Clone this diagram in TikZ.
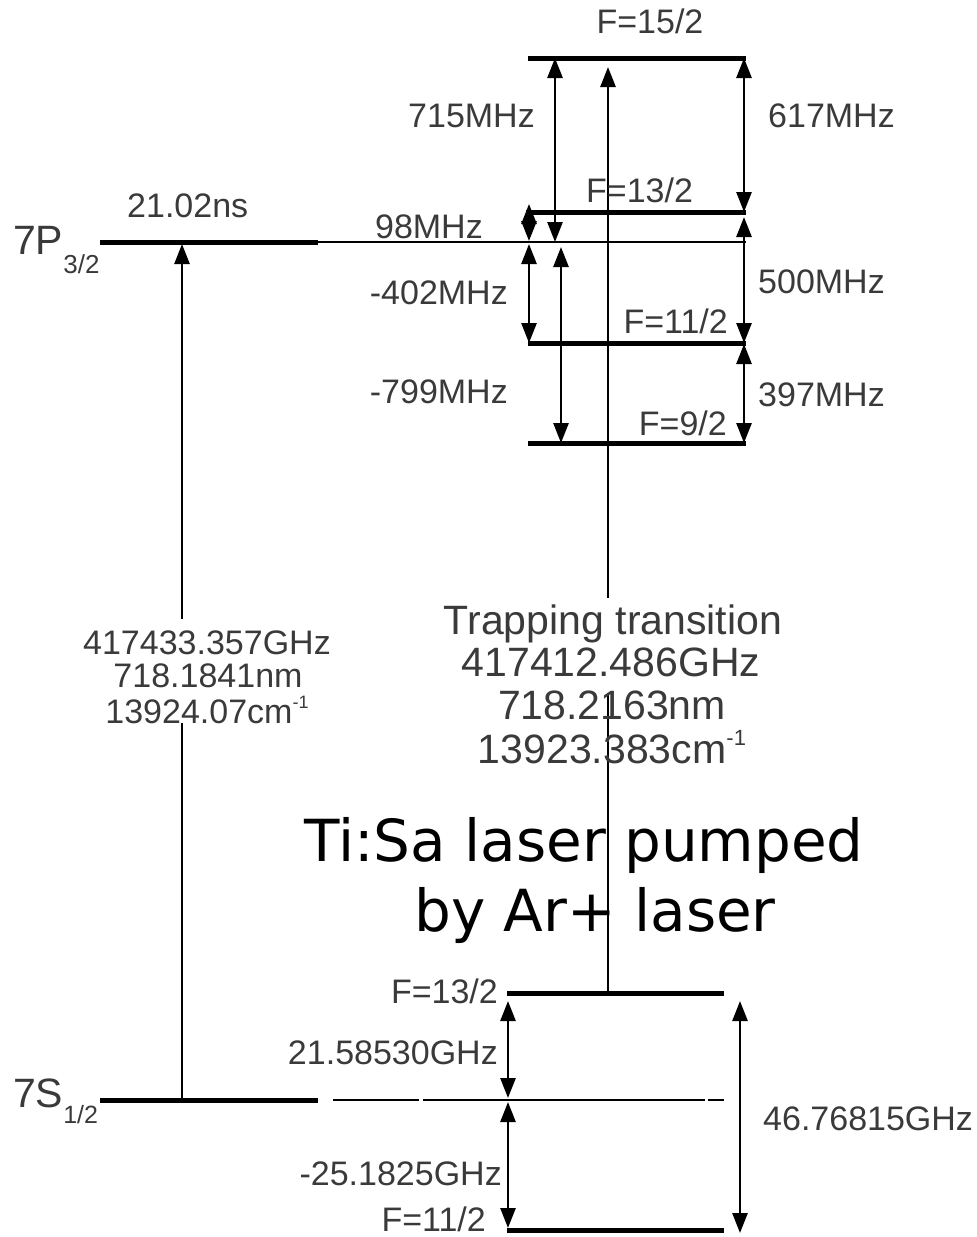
\documentclass[tikz,border=0pt]{standalone}
\usepackage{fontspec}
\setmainfont{Liberation Sans}
\newfontfamily\djv{DejaVu Sans}
\usetikzlibrary{arrows.meta}
\definecolor{lab}{RGB}{58,58,58}
\newcommand{\supm}[1]{\raisebox{0.42em}{\fontsize{18}{18}\selectfont #1}}
\begin{document}
\begin{tikzpicture}[x=1pt,y=-1pt,
  >={Triangle[length=20pt,width=15pt]},
  level/.style={line width=5pt},
  refline/.style={line width=2pt},
  dbl/.style={line width=2.7pt,<->},
  uparr/.style={line width=2.7pt,->},
  lbl/.style={text=lab,inner sep=0pt,font=\fontsize{34}{36}\selectfont},
  tlbl/.style={text=lab,inner ysep=0pt,inner xsep=2pt,font=\fontsize{41}{43}\selectfont},
  big/.style={inner sep=0pt,font=\djv\fontsize{58}{68}\selectfont},
]
\useasboundingbox (0,0) rectangle (977,1237);

% ---------- coordinates of levels ----------
\coordinate (p7a) at (100,242);  \coordinate (p7b) at (318,242);
\coordinate (refb) at (746,242);
\coordinate (u15a) at (528,58);  \coordinate (u15b) at (746,58);
\coordinate (u13a) at (526,212); \coordinate (u13b) at (746,212);
\coordinate (u11a) at (528,343); \coordinate (u11b) at (746,343);
\coordinate (u9a) at (528,443);  \coordinate (u9b) at (746,443);
\coordinate (s7a) at (100,1100); \coordinate (s7b) at (318,1100);
\coordinate (d1a) at (333,1100); \coordinate (d1b) at (419,1100);
\coordinate (d2a) at (423,1100); \coordinate (d2b) at (705,1100);
\coordinate (d3a) at (708,1100); \coordinate (d3b) at (724,1100);
\coordinate (l13a) at (507,993); \coordinate (l13b) at (724,993);
\coordinate (l11a) at (507,1230);\coordinate (l11b) at (724,1230);

% ---------- levels ----------
\draw[level] (p7a) -- (p7b);
\draw[refline] (p7b) -- (refb);
\draw[level] (u15a) -- (u15b);
\draw[level] (u13a) -- (u13b);
\draw[level] (u11a) -- (u11b);
\draw[level] (u9a) -- (u9b);
\draw[level] (s7a) -- (s7b);
\draw[refline] (d1a) -- (d1b);
\draw[refline] (d2a) -- (d2b);
\draw[refline] (d3a) -- (d3b);
\draw[level] (l13a) -- (l13b);
\draw[level] (l11a) -- (l11b);

% ---------- arrow end points ----------
\coordinate (a715t) at (555,58);  \coordinate (a715b) at (555,242);
\coordinate (a617t) at (744,58);  \coordinate (a617b) at (744,212);
\coordinate (a500t) at (744,217); \coordinate (a500b) at (744,343);
\coordinate (a397t) at (744,344); \coordinate (a397b) at (744,443);
\coordinate (a98t) at (529,204);  \coordinate (a98b) at (529,241);
\coordinate (a402t) at (529,244); \coordinate (a402b) at (529,343);
\coordinate (a799t) at (561,247); \coordinate (a799b) at (561,443);
\coordinate (trb) at (608,993);   \coordinate (trt) at (608,67);
\coordinate (lfb) at (182,1100);  \coordinate (lft) at (182,244);
\coordinate (g1t) at (508,1001);  \coordinate (g1b) at (508,1098);
\coordinate (g2t) at (508,1102);  \coordinate (g2b) at (508,1228);
\coordinate (g3t) at (740,1001);  \coordinate (g3b) at (740,1233);

% ---------- arrows ----------
\draw[dbl] (a715t) -- (a715b);
\draw[dbl] (a617t) -- (a617b);
\draw[dbl] (a500t) -- (a500b);
\draw[dbl] (a397t) -- (a397b);
\draw[dbl] (a98t) -- (a98b);
\draw[dbl] (a402t) -- (a402b);
\draw[dbl] (a799t) -- (a799b);
\draw[uparr] (trb) -- (trt);
\draw[uparr] (lfb) -- (lft);
\draw[dbl] (g1t) -- (g1b);
\draw[dbl] (g2t) -- (g2b);
\draw[dbl] (g3t) -- (g3b);

% ---------- upper labels ----------
\node[lbl,anchor=base] (f15) at (650,33) {F=15/2};
\node[lbl,anchor=base east] (l715) at (535,127) {715MHz};
\node[lbl,anchor=base west] (l617) at (768,127) {617MHz};
\node[lbl,anchor=base west] (f13u) at (586,202) {F=13/2};
\node[lbl,anchor=base east] (l98) at (483,238) {98MHz};
\node[lbl,anchor=base east] (l402) at (508,304) {-402MHz};
\node[lbl,anchor=base west] (l500) at (758,293) {500MHz};
\node[lbl,anchor=base east] (f11u) at (728,333) {F=11/2};
\node[lbl,anchor=base east] (l799) at (508,403) {-799MHz};
\node[lbl,anchor=base west] (l397) at (758,406) {397MHz};
\node[lbl,anchor=base east] (f9) at (727,435) {F=9/2};
\node[lbl,anchor=base west] (tau) at (127,217) {21.02ns};

\node[lbl,anchor=base west,font=\fontsize{41}{41}\selectfont] (p7) at (13,254)
  {7P\raisebox{-19pt}{\fontsize{26}{26}\selectfont 3/2}};
\node[lbl,anchor=base west,font=\fontsize{41}{41}\selectfont] (s7) at (13,1107)
  {7S\raisebox{-16pt}{\fontsize{25}{25}\selectfont 1/2}};

% ---------- left transition text ----------
\node[lbl,fill=white,inner xsep=2pt,anchor=base,text height=35pt,text depth=9pt] (w1) at (207,654) {417433.357GHz};
\node[lbl,fill=white,inner xsep=2pt,anchor=base,text height=25pt,text depth=10pt] (w2) at (208,687) {718.1841nm};
\node[lbl,fill=white,inner xsep=2pt,anchor=base,text height=34pt,text depth=0pt] (w3) at (207,723) {13924.07cm\supm{-1}};

% ---------- trapping transition text ----------
\node[tlbl,fill=white,anchor=base,text height=36pt,text depth=10pt] (t1) at (613,634) {Trapping transition};
\node[tlbl,fill=white,anchor=base,text height=33pt,text depth=17pt] (t2) at (611,676) {417412.486GHz};
\node[tlbl,anchor=base] (t3) at (612,719) {718.2163nm};
\node[tlbl,anchor=base] (t4) at (612,763) {13923.383cm\raisebox{0.42em}{\fontsize{22}{22}\selectfont -1}};

% ---------- laser text ----------
\node[big,anchor=base] (ti1) at (584,861) {Ti:Sa laser pumped};
\node[big,anchor=base] (ti2) at (595,931) {by Ar+ laser};

% ---------- lower labels ----------
\node[lbl,anchor=base east] (f13l) at (498,1003) {F=13/2};
\node[lbl,anchor=base east] (l2158) at (498,1064) {21.58530GHz};
\node[lbl,anchor=base east] (l2518) at (502,1185) {-25.1825GHz};
\node[lbl,anchor=base east] (f11l) at (486,1231) {F=11/2};
\node[lbl,anchor=base west] (l4676) at (763,1130) {46.76815GHz};
\end{tikzpicture}
\end{document}
